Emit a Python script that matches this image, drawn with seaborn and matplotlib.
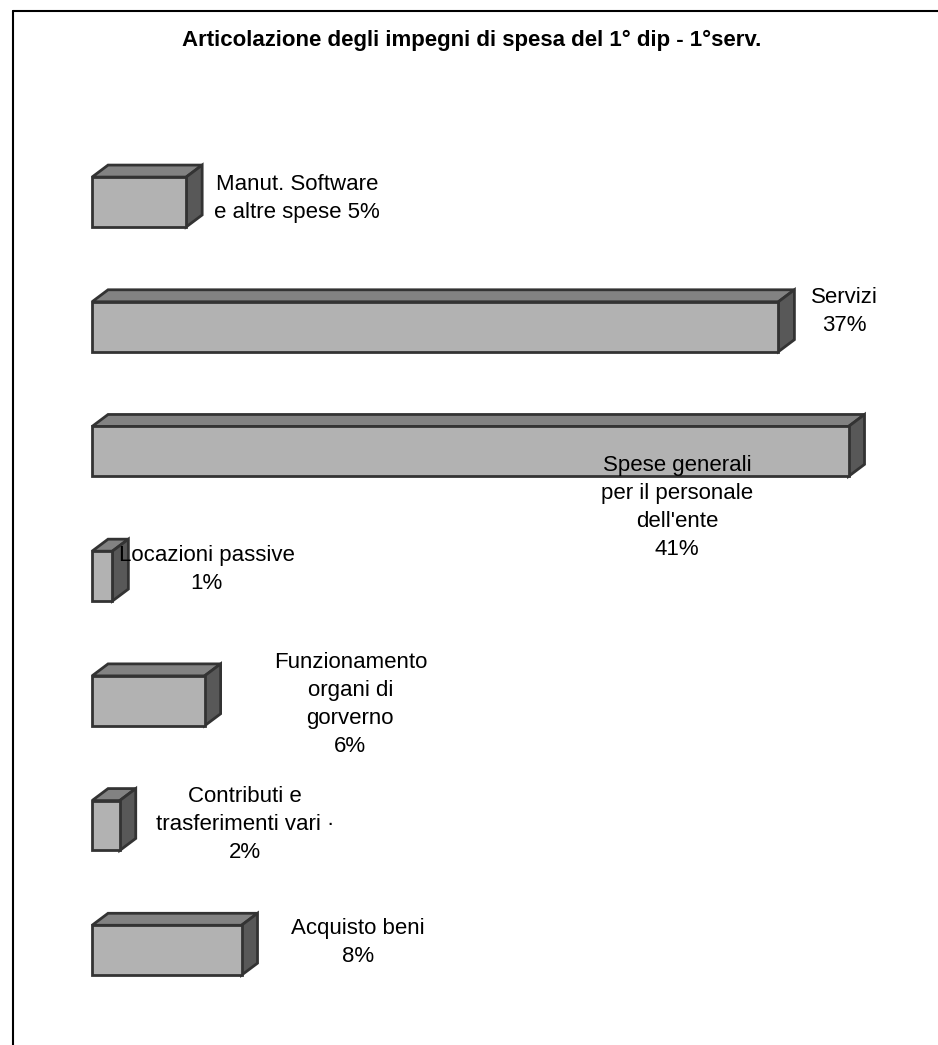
import seaborn as sns
import numpy as np
import pandas as pd
import matplotlib.pyplot as plt
from matplotlib.patches import Polygon
from matplotlib.lines import Line2D

categories = ["Manut. Software e altre spese", "Servizi",
              "Spese generali per il personale dell'ente", "Locazioni passive",
              "Funzionamento organi di gorverno", "Contributi e trasferimenti vari",
              "Acquisto beni"]
values = [5.1, 37.2, 41.0, 1.1, 6.1, 1.5, 8.1]
labels = ["Manut. Software\ne altre spese 5%", "Servizi\n37%",
          "Spese generali\nper il personale\ndell'ente\n41%", "Locazioni passive\n1%",
          "Funzionamento\norgani di\ngorverno\n6%", "Contributi e\ntrasferimenti vari \u00b7\n2%",
          "Acquisto beni\n8%"]

# where each label sits (data units), chart layout only
label_pos = [(11.1, -0.03), (40.8, 0.88), (31.7, 2.45), (6.2, 2.95),
             (14.0, 4.03), (8.3, 4.99), (14.4, 5.94)]

df = pd.DataFrame({"cat": categories, "val": values})

sns.set_style("white")
plt.rcParams['font.family'] = ['Liberation Sans', 'DejaVu Sans']
plt.rcParams['text.color'] = 'black'

fig = plt.figure(figsize=(9.38, 10.45), dpi=100)
ax = fig.add_axes([0, 0, 1, 1])

FRONT = "#b2b2b2"
TOP = "#828282"
SIDE = "#585858"
EDGE = "#333333"

sns.barplot(data=df, y="cat", x="val", orient="h", width=0.4, color=FRONT,
            edgecolor=EDGE, linewidth=2, saturation=1, ax=ax, zorder=3)

ax.set_xlim(-4.99, 45.85)
ax.set_ylim(6.76, -1.62)

# depth of the pseudo 3d boxes
dx = 16 / 18.45
dy = 12 / 124.7
for p in list(ax.patches):
    x0, y0 = p.get_x(), p.get_y()
    w, h = p.get_width(), p.get_height()
    # y axis inverted: y0 is the top edge on screen
    top = Polygon([(x0, y0), (x0 + w, y0), (x0 + w + dx, y0 - dy), (x0 + dx, y0 - dy)],
                  closed=True, facecolor=TOP, edgecolor=EDGE, linewidth=2, zorder=2)
    side = Polygon([(x0 + w, y0), (x0 + w + dx, y0 - dy), (x0 + w + dx, y0 + h - dy), (x0 + w, y0 + h)],
                   closed=True, facecolor=SIDE, edgecolor=EDGE, linewidth=2, zorder=2)
    ax.add_patch(top)
    ax.add_patch(side)

for lab, (lx, ly) in zip(labels, label_pos):
    ax.text(lx, ly, lab, ha="center", va="center", fontsize=16,
            linespacing=1.45, color="black", zorder=5)

ax.set_axis_off()

fig.text(472 / 938, 1 - 40 / 1045, "Articolazione degli impegni di spesa del 1\u00b0 dip - 1\u00b0serv.",
         ha="center", va="center", fontsize=16, fontweight="bold", color="black")

# chart frame: only top and left edges are visible in the crop
ytop = 1 - 10.5 / 1045
xleft = 12.5 / 938
fig.add_artist(Line2D([xleft, 1.0], [ytop, ytop], color="black", linewidth=1.5))
fig.add_artist(Line2D([xleft, xleft], [0, ytop], color="black", linewidth=1.5))

fig.savefig("out.png", dpi=100, facecolor="white")
